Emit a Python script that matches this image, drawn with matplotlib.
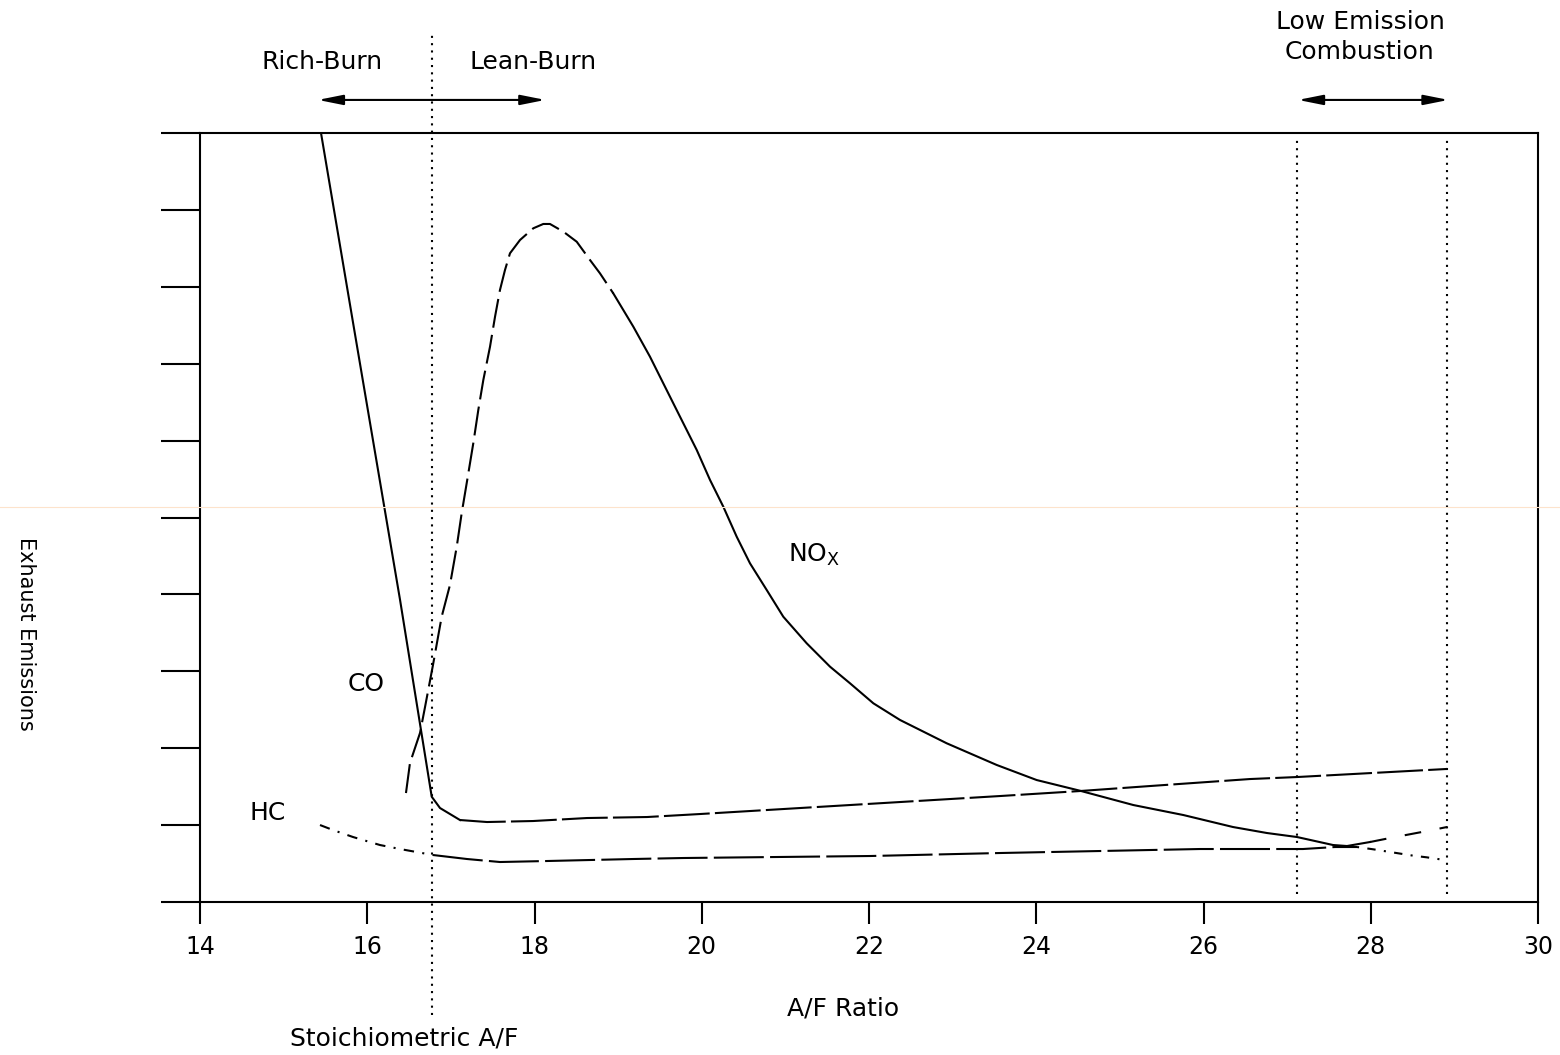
import matplotlib
matplotlib.use("Agg")
import matplotlib.pyplot as plt
from matplotlib.lines import Line2D

plt.rcParams["font.family"] = ["DejaVu Sans"]

# ---------------- data ----------------
x_ticks = [14, 16, 18, 20, 22, 24, 26, 28, 30]
y_ticks = [0, 1, 2, 3, 4, 5, 6, 7, 8, 9, 10]

stoich_af = 16.77
low_emission_lo = 27.12
low_emission_hi = 28.91

co_x = [15.447, 15.840, 16.392, 16.771, 16.870, 17.109, 17.432, 17.982,
        18.628, 19.345, 19.979, 21.773, 23.567, 24.523, 25.360, 26.556, 27.118, 28.912]
co_y = [10.0, 7.47, 3.93, 1.369, 1.222, 1.066, 1.040, 1.053,
        1.092, 1.105, 1.144, 1.261, 1.378, 1.443, 1.508, 1.599, 1.625, 1.730]

nox_x = [16.463, 16.511, 16.631, 16.691, 16.786, 16.890, 16.989, 17.070, 17.129, 17.189,
         17.268, 17.328, 17.388, 17.468, 17.528, 17.587, 17.647, 17.707, 17.827, 17.986,
         18.105, 18.185, 18.345, 18.505, 18.664, 18.783, 18.942, 19.182, 19.381, 19.540,
         19.740, 19.940, 20.099, 20.258, 20.418, 20.577, 20.777, 20.975, 21.255, 21.534,
         21.773, 22.052, 22.371, 22.929, 23.527, 24.005, 24.523, 25.161, 25.759, 26.353,
         26.759, 27.118, 27.549, 27.716, 27.991, 28.230, 28.673, 28.912]
nox_y = [1.417, 1.808, 2.198, 2.536, 3.082, 3.710, 4.122, 4.620, 5.055, 5.445,
         5.965, 6.398, 6.788, 7.221, 7.611, 7.958, 8.218, 8.436, 8.609, 8.761,
         8.817, 8.817, 8.717, 8.586, 8.348, 8.175, 7.915, 7.481, 7.091, 6.745,
         6.311, 5.878, 5.488, 5.140, 4.750, 4.404, 4.057, 3.710, 3.364, 3.060,
         2.844, 2.584, 2.367, 2.064, 1.782, 1.586, 1.447, 1.261, 1.131, 0.975,
         0.897, 0.845, 0.741, 0.728, 0.780, 0.832, 0.923, 0.975]

hc_x = [15.435, 15.590, 15.830, 16.152, 16.392, 16.786, 17.193, 17.587, 18.149, 19.178,
        19.776, 22.012, 23.567, 25.958, 27.190, 27.573, 27.836, 28.031, 28.330, 28.509,
        28.669, 28.828, 28.912]
hc_y = [1.001, 0.936, 0.845, 0.741, 0.689, 0.611, 0.559, 0.520, 0.533, 0.559,
        0.572, 0.598, 0.637, 0.689, 0.689, 0.715, 0.715, 0.685, 0.633, 0.602,
        0.581, 0.555, 0.555]


def seg(xs, ys, lo, hi):
    px = [a for a in xs if lo <= a <= hi]
    py = [b for a, b in zip(xs, ys) if lo <= a <= hi]
    return px, py


# ---------------- figure ----------------
W, H = 1560, 1055
fig = plt.figure(figsize=(W / 100, H / 100), dpi=100)
ax = fig.add_axes([200 / W, 1 - 902 / H, 1338 / W, 769 / H])
ax.set_xlim(14, 30)
ax.set_ylim(0, 10)

for s in ax.spines.values():
    s.set_linewidth(1.5)

ax.set_xticks(x_ticks)
ax.set_xticklabels([str(t) for t in x_ticks], fontsize=17)
ax.set_yticks(y_ticks)
ax.set_yticklabels([])
ax.tick_params(axis="x", direction="out", length=16, width=1.5, pad=8)
ax.tick_params(axis="y", direction="out", length=28, width=1.5)

lw = 1.5
# CO
x, y = seg(co_x, co_y, 0, 17.11)
ax.plot(x, y, color="black", lw=lw, solid_joinstyle="round")
x, y = seg(co_x, co_y, 17.10, 40)
ax.plot(x, y, color="black", lw=lw, linestyle=(0, (22, 2.5)))

# NOx
x, y = seg(nox_x, nox_y, 0, 18.95)
ax.plot(x, y, color="black", lw=lw, linestyle=(0, (14, 3.5)))
x, y = seg(nox_x, nox_y, 18.94, 28.0)
ax.plot(x, y, color="black", lw=lw, solid_joinstyle="round")
x, y = seg(nox_x, nox_y, 27.99, 40)
ax.plot(x, y, color="black", lw=lw, linestyle=(0, (8, 9)))

# HC
x, y = seg(hc_x, hc_y, 0, 16.79)
ax.plot(x, y, color="black", lw=lw, linestyle=(0, (5, 4, 1, 4)))
x, y = seg(hc_x, hc_y, 16.78, 27.84)
ax.plot(x, y, color="black", lw=lw, linestyle=(0, (24, 3)))
x, y = seg(hc_x, hc_y, 27.83, 40)
ax.plot(x, y, color="black", lw=lw, linestyle=(0, (1, 4, 4, 4)))

# dotted reference lines
dot = (0, (1, 2.5))
ax.plot([stoich_af, stoich_af], [-1.47, 11.31], color="black", lw=1.5,
        linestyle=dot, clip_on=False)
for xv in (low_emission_lo, low_emission_hi):
    ax.plot([xv, xv], [0.1, 9.95], color="black", lw=1.5, linestyle=dot)

# arrows
arrow_y = 10.43
ap = dict(arrowstyle="<|-|>,head_length=0.75,head_width=0.15", color="black",
          lw=1.5, mutation_scale=20, shrinkA=0, shrinkB=0)
ax.annotate("", xy=(18.13, arrow_y), xytext=(15.41, arrow_y), arrowprops=ap,
            annotation_clip=False)
ax.annotate("", xy=(28.93, arrow_y), xytext=(27.13, arrow_y), arrowprops=ap,
            annotation_clip=False)

# curve labels
ax.text(15.985, 2.835, "CO", fontsize=18, ha="center", va="center")
ax.text(14.813, 1.157, "HC", fontsize=18, ha="center", va="center")
ax.text(21.031, 4.42, r"NO$_\mathregular{X}$", fontsize=18, ha="left", va="baseline")

# outer texts
fs = 18
fig.text(322.5 / W, 1 - 61.7 / H, "Rich-Burn", fontsize=fs, ha="center", va="center")
fig.text(533.3 / W, 1 - 61.7 / H, "Lean-Burn", fontsize=fs, ha="center", va="center")
fig.text(1360 / W, 1 - 21.7 / H, "Low Emission", fontsize=fs, ha="center", va="center")
fig.text(1359 / W, 1 - 51.7 / H, "Combustion", fontsize=fs, ha="center", va="center")
fig.text(843 / W, 1 - 1008 / H, "A/F Ratio", fontsize=fs, ha="center", va="center")
fig.text(404 / W, 1 - 1038 / H, "Stoichiometric A/F", fontsize=fs, ha="center", va="center")
fig.text(26 / W, 1 - 634 / H, "Exhaust Emissions", fontsize=15, ha="center",
         va="center", rotation=270)

# faint scan line across the image
fig.add_artist(Line2D([0, 1], [1 - 507 / H, 1 - 507 / H], transform=fig.transFigure,
                      color="#fde3cc", lw=0.8))

fig.savefig("out.png", dpi=100)
